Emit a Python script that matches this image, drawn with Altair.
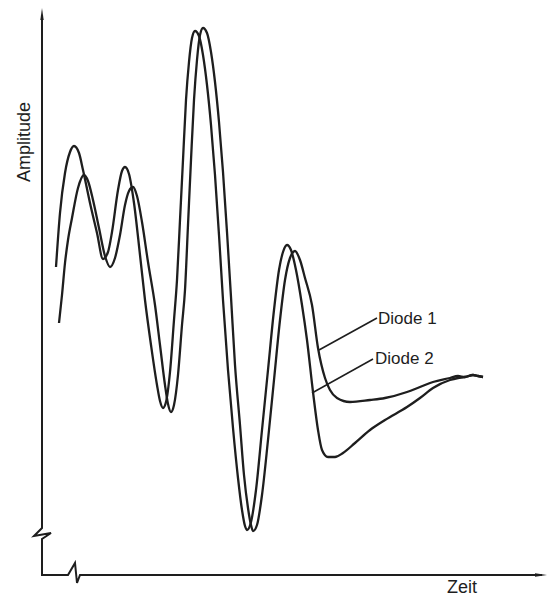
import altair as alt
import pandas as pd

# Arbitrary units: Zeit (time) and Amplitude, axis origin = (0, 0)
diode1_t = [17, 20, 23, 26, 30, 36, 42, 46, 51, 57, 63, 68, 73, 78, 83, 87, 91, 95, 100, 106,
            113, 118, 123, 126, 129, 132, 136, 140, 143, 146, 149, 152, 155, 158, 161, 165, 169,
            173, 177, 181, 185, 189, 193, 198, 202, 206, 209, 211, 215, 220, 226, 232, 238, 243, 248, 253,
            258, 263, 270, 276, 283, 288, 295, 308, 328, 343, 365, 378, 391, 408, 416, 423, 431, 436, 441]
diode1_a = [252, 280, 312, 335, 357, 387, 400, 394, 375, 347, 319, 308, 317, 340, 370, 384, 388, 379, 353, 313,
            270, 230, 190, 171, 163, 170, 200, 250, 285, 350, 415, 475, 515, 540, 547, 542, 523,
            493, 453, 403, 343, 278, 210, 150, 100, 67, 50, 44, 50, 80, 135, 195, 255, 295, 317, 324,
            315, 297, 270, 227, 197, 185, 177, 173, 175, 177, 183, 188, 193, 197, 199, 198, 200, 199, 198]

diode2_t = [14, 18, 23, 28, 32, 37, 41, 48, 55, 61, 66, 70, 76, 80, 83, 87, 92, 98, 103, 109,
            115, 118, 121, 124, 128, 132, 135, 138, 141, 144, 147, 150, 153, 157, 161, 165, 169,
            173, 177, 181, 186, 191, 196, 200, 203, 205, 209, 214, 220, 226, 232, 237, 241, 245, 249, 254,
            260, 265, 271, 276, 280, 286, 293, 301, 313, 328, 343, 365, 378, 391, 408, 416, 423, 431, 436, 441]
diode2_a = [308, 362, 402, 423, 429, 422, 405, 372, 342, 316, 323, 343, 385, 404, 408, 401, 372, 320, 275, 230,
            190, 174, 167, 173, 203, 255, 295, 355, 415, 475, 513, 537, 544, 539, 520, 490, 450,
            400, 340, 275, 205, 147, 97, 65, 49, 45, 53, 85, 145, 205, 265, 305, 323, 330, 325, 305,
            270, 235, 183, 145, 125, 118, 118, 122, 132, 145, 155, 168, 177, 187, 195, 197, 198, 200, 199, 198]

# Axis polyline with the two break symbols
axis_t = [0, 0, -8, 9, 0, 0, 26, 33, 35, 38, 500]
axis_a = [560, 47, 39, 42, 36, 0, 0, 12, -8, 0, 0]

# Arrow heads (tip positions) and their directions
arrow_t = [0, 505]
arrow_a = [567, 0]
arrow_angle = [0, 90]

# Labels with leader lines
label_text = ["Diode 1", "Diode 2"]
label_t = [336, 333]
label_a = [251, 211]
leader_t1 = [277, 270]
leader_a1 = [225, 182]
leader_t2 = [335, 331]
leader_a2 = [257, 216]

INK = "#1e1e1e"
FONT = "Liberation Sans"

xs = alt.Scale(domain=[-34, 505], nice=False, zero=False)
ys = alt.Scale(domain=[-23, 567], nice=False, zero=False)

rows = []
for name, ts, as_ in [("Diode 1", diode1_t, diode1_a), ("Diode 2", diode2_t, diode2_a)]:
    for i, (t, a) in enumerate(zip(ts, as_)):
        rows.append({"series": name, "i": i, "t": t, "a": a})
curves_df = pd.DataFrame(rows)

axis_df = pd.DataFrame({"i": range(len(axis_t)), "t": axis_t, "a": axis_a})
arrow_df = pd.DataFrame({"t": arrow_t, "a": arrow_a, "ang": arrow_angle})
label_df = pd.DataFrame({"text": label_text, "t": label_t, "a": label_a})
leader_df = pd.DataFrame({"t": leader_t1, "a": leader_a1, "t2": leader_t2, "a2": leader_a2})

curves = alt.Chart(curves_df).mark_line(
    color=INK, strokeWidth=2.3, interpolate="monotone"
).encode(
    x=alt.X("t:Q", scale=xs, axis=None),
    y=alt.Y("a:Q", scale=ys, axis=None),
    detail="series:N",
    order="i:Q",
)

axis_line = alt.Chart(axis_df).mark_line(color=INK, strokeWidth=2, strokeJoin="miter").encode(
    x=alt.X("t:Q", scale=xs, axis=None),
    y=alt.Y("a:Q", scale=ys, axis=None),
    order="i:Q",
)

arrows = alt.Chart(arrow_df).mark_point(
    shape="M0,0L0.28,2L-0.28,2Z", filled=True, color=INK, opacity=1, size=144
).encode(
    x=alt.X("t:Q", scale=xs, axis=None),
    y=alt.Y("a:Q", scale=ys, axis=None),
    angle=alt.Angle("ang:Q", scale=None),
)

leaders = alt.Chart(leader_df).mark_rule(color=INK, strokeWidth=1.5).encode(
    x=alt.X("t:Q", scale=xs, axis=None),
    y=alt.Y("a:Q", scale=ys, axis=None),
    x2="t2:Q",
    y2="a2:Q",
)

labels = alt.Chart(label_df).mark_text(
    align="left", baseline="alphabetic", font=FONT, fontSize=17, color=INK
).encode(
    x=alt.X("t:Q", scale=xs, axis=None),
    y=alt.Y("a:Q", scale=ys, axis=None),
    text="text:N",
)

ytitle = alt.Chart(pd.DataFrame({"t": [-17], "a": [433], "text": ["Amplitude"]})).mark_text(
    angle=270, align="center", baseline="middle", font=FONT, fontSize=18, color=INK
).encode(
    x=alt.X("t:Q", scale=xs, axis=None),
    y=alt.Y("a:Q", scale=ys, axis=None),
    text="text:N",
)

xtitle = alt.Chart(pd.DataFrame({"t": [405], "a": [-18], "text": ["Zeit"]})).mark_text(
    align="left", baseline="alphabetic", font=FONT, fontSize=18, color=INK
).encode(
    x=alt.X("t:Q", scale=xs, axis=None),
    y=alt.Y("a:Q", scale=ys, axis=None),
    text="text:N",
)

chart = alt.layer(curves, axis_line, arrows, leaders, labels, ytitle, xtitle).properties(
    width=539, height=590, autosize=alt.AutoSizeParams(type="none"), padding=0,
    background="white",
).configure_view(stroke=None)

chart.save("out.html", embed_options={"renderer": "svg", "actions": False})
